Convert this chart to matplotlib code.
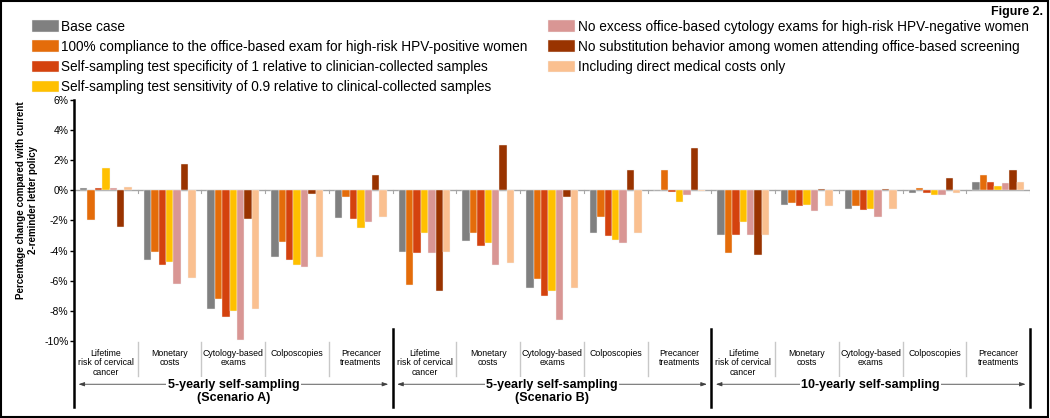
import numpy as np
import matplotlib.pyplot as plt
from matplotlib.patches import Rectangle

plt.rcParams['font.family'] = ['Liberation Sans', 'DejaVu Sans']

# categories (repeated for each of the three strategies)
outcomes = ['Lifetime\nrisk of cervical\ncancer', 'Monetary\ncosts', 'Cytology-based\nexams',
            'Colposcopies', 'Precancer\ntreatments']
scenarios = ['5-yearly self-sampling\n(Scenario A)', '5-yearly self-sampling\n(Scenario B)',
             '10-yearly self-sampling']

# percentage change per outcome, 15 values = 3 scenarios x 5 outcomes
base_case = [0.18, -4.6, -7.87, -4.4, -1.82, -4.11, -3.33, -6.51, -2.82, -0.03, -2.93, -0.96, -1.22, -0.16, 0.56]
compliance = [-1.96, -4.07, -7.2, -3.4, -0.42, -6.27, -2.8, -5.87, -1.78, 1.36, -4.18, -0.87, -1.07, 0.16, 1.0]
specificity = [0.15, -4.98, -8.38, -4.62, -1.89, -4.16, -3.71, -7.0, -3.0, -0.09, -2.93, -1.07, -1.33, -0.2, 0.53]
sensitivity = [1.5, -4.73, -8.02, -4.93, -2.53, -2.82, -3.47, -6.67, -3.31, -0.78, -2.13, -0.98, -1.27, -0.33, 0.29]
no_excess = [0.13, -6.2, -9.93, -5.11, -2.09, -4.18, -4.93, -8.6, -3.49, -0.29, -2.98, -1.38, -1.76, -0.33, 0.47]
no_substitution = [-2.4, 1.78, -1.87, -0.24, 1.0, -6.71, 3.04, -0.47, 1.38, 2.78, -4.27, 0.09, 0.11, 0.84, 1.36]
direct_costs = [0.2, -5.84, -7.87, -4.42, -1.8, -4.11, -4.82, -6.51, -2.82, -0.03, -2.93, -1.07, -1.22, -0.16, 0.58]

series = [base_case, compliance, specificity, sensitivity, no_excess, no_substitution, direct_costs]
labels = ['Base case',
          '100% compliance to the office-based exam for high-risk HPV-positive women',
          'Self-sampling test specificity of 1 relative to clinician-collected samples',
          'Self-sampling test sensitivity of 0.9 relative to clinical-collected samples',
          'No excess office-based cytology exams for high-risk HPV-negative women',
          'No substitution behavior among women attending office-based screening',
          'Including direct medical costs only']
colors = ['#808080', '#E46C0A', '#D4420E', '#FFC000', '#D99694', '#993300', '#FAC090']

fig = plt.figure(figsize=(10.5, 4.18), dpi=100)
ax = fig.add_axes([0.0705, 0.1842, 0.9105, 0.5766])

n = len(base_case)
x = np.arange(n) + 0.5
w = 0.116
for j, (vals, col, lab) in enumerate(zip(series, colors, labels)):
    ax.bar(x + (j - 3) * w, vals, w, color=col, label=lab,
           edgecolor='#f4f4f4', linewidth=0.3)

ax.set_xlim(0, n)
ax.set_ylim(-10, 6)
ax.set_yticks(np.arange(-10, 7, 2))
ax.set_yticklabels(['%d%%' % v for v in np.arange(-10, 7, 2)], fontsize=7.5)
ax.tick_params(axis='y', direction='out', length=3, width=1, pad=1)
ax.set_xticks([])
for s in ['top', 'right', 'bottom', 'left']:
    ax.spines[s].set_visible(False)

# zero line with small ticks at category boundaries
ax.axhline(0, color='#a6a6a6', lw=1, zorder=0)
for k in range(n + 1):
    ax.plot([k, k], [0, -0.2], color='#a6a6a6', lw=0.8, zorder=0)

# left axis line running down through the category area
ax.plot([0, 0], [6, -14.4], color='black', lw=1.8, clip_on=False)
for k in [5, 10, 15]:
    ax.plot([k, k], [-9.2, -14.4], color='black', lw=1.8, clip_on=False)

# category labels and thin separators
for k in range(n):
    ax.text(k + 0.5, -10.5, outcomes[k % 5], ha='center', va='top', fontsize=6.3,
            linespacing=1.1, clip_on=False)
    if k % 5 != 0:
        ax.plot([k, k], [-10.07, -12.33], color='#c8c8c8', lw=1, clip_on=False)

# scenario arrows and titles
for i, name in enumerate(scenarios):
    x0, x1 = i * 5 + 0.07, i * 5 + 4.93
    ax.annotate('', xy=(x0, -12.87), xytext=(x1, -12.87),
                arrowprops=dict(arrowstyle='<|-|>,head_length=0.35,head_width=0.12',
                                color='#404040', lw=0.6, shrinkA=0, shrinkB=0),
                annotation_clip=False)
    ax.text(i * 5 + 2.5, -12.5, name, ha='center', va='top', fontsize=9,
            fontweight='bold', linespacing=1.2, clip_on=False,
            bbox=dict(facecolor='white', edgecolor='none', pad=1))

ax.set_ylabel('Percentage change compared with current\n2-reminder letter policy',
              fontsize=7, fontweight='bold')
ax.yaxis.set_label_coords(-0.038, 0.585)

fig.legend(loc='upper left', bbox_to_anchor=(0.03, 0.953), ncol=2, frameon=False,
           fontsize=9.8, handlelength=2.0, handleheight=0.9, handletextpad=0.2,
           labelspacing=0.45, columnspacing=1.45, borderpad=0, borderaxespad=0)

fig.text(0.993, 0.986, 'Figure 2.', ha='right', va='top', fontsize=9, fontweight='bold')
fig.patches.append(Rectangle((0.001, 0.002), 0.997, 0.996, transform=fig.transFigure,
                             fill=False, edgecolor='black', lw=1.5))

fig.savefig('out.png', dpi=100)
